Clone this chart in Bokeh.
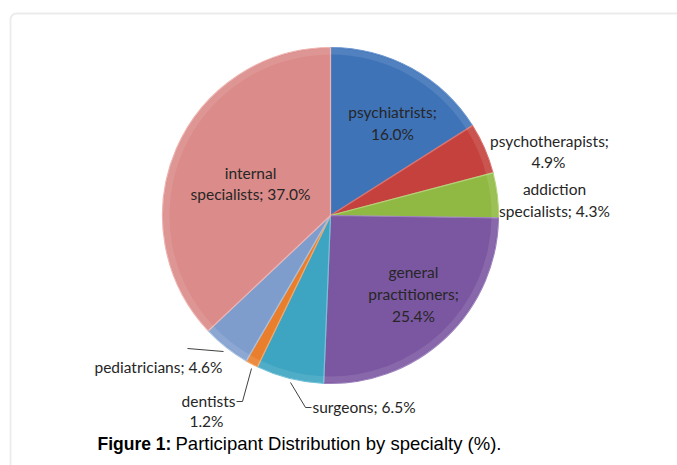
import math
from bokeh.plotting import figure
from bokeh.models import Range1d, BoxAnnotation
from bokeh.core.properties import value
from bokeh.embed import file_html
from bokeh.resources import INLINE

# ---- data ----
categories = ["psychiatrists", "psychotherapists", "addiction specialists",
              "general practitioners", "surgeons", "dentists",
              "pediatricians", "internal specialists"]
shares = [16.0, 4.9, 4.3, 25.4, 6.5, 1.2, 4.6, 37.0]
colors = ["#3F73B8", "#C4413D", "#8FB943", "#7B57A1",
          "#3DA4C1", "#E97F2C", "#7F9DCC", "#DB8B89"]
edge_colors = ["#6E98CF", "#D9736F", "#B4D47A", "#9D82BD",
               "#74C2D8", "#F3A86A", "#A8C0E2", "#EDB3B1"]

W, H = 677, 465
p = figure(width=W, height=H, output_backend="svg", toolbar_location=None,
           x_range=Range1d(0, W), y_range=Range1d(0, H),
           min_border=0, outline_line_color=None)
p.axis.visible = False
p.grid.visible = False
p.background_fill_color = "white"
p.border_fill_color = "white"


def Y(py):
    # page pixel row -> data y
    return H - py


# frame
p.add_layout(BoxAnnotation(left=10, right=760, top=Y(13), bottom=Y(600),
                           fill_alpha=0, line_color="#BDBDBD", line_width=1.8,
                           border_radius=6))

cx, cy, r = 330, Y(215), 168
total = sum(shares)
cum = 0.0
starts, ends = [], []
for s in shares:
    a0 = math.pi / 2 - 2 * math.pi * cum / total
    cum += s
    a1 = math.pi / 2 - 2 * math.pi * cum / total
    starts.append(a0)
    ends.append(a1)

p.wedge(x=[cx] * len(shares), y=[cy] * len(shares), radius=r,
        start_angle=starts, end_angle=ends, direction="clock",
        fill_color=colors, line_color=edge_colors, line_width=1.2)
# soft bevel ring near the rim
p.annular_wedge(x=[cx] * len(shares), y=[cy] * len(shares),
                inner_radius=r - 7, outer_radius=r - 1,
                start_angle=starts, end_angle=ends, direction="clock",
                fill_color="white", fill_alpha=0.10, line_color=None)

font = value("Lato")
tc = "#262626"
fs = "15.5px"


def label(x, py, txt, align="center"):
    p.text(x=[x], y=[Y(py)], text=[txt], text_font=font, text_font_size=fs,
           text_color=tc, text_align=align, text_baseline="middle")


def pct(v):
    return f"{v:.1f}%"


label(392, 111, "psychiatrists;")
label(392, 133, pct(shares[0]))
label(549, 140, "psychotherapists;")
label(548, 161, pct(shares[1]))
label(554, 188, "addiction")
label(554, 210, "specialists; " + pct(shares[2]))
label(413, 271, "general")
label(413, 293, "practitioners;")
label(413, 315, pct(shares[3]))
label(250, 172, "internal")
label(250, 193, "specialists; " + pct(shares[7]))
label(158, 366, "pediatricians; " + pct(shares[6]))
label(235, 400, "dentists", align="right")
label(206, 420, pct(shares[5]))
label(312, 406, "surgeons; " + pct(shares[4]), align="left")

lc = "#404040"
p.line(x=[187, 223], y=[Y(348), Y(351)], line_color=lc, line_width=1)
p.line(x=[236, 242, 251], y=[Y(401), Y(401), Y(368)], line_color=lc, line_width=1)
p.line(x=[290, 305, 311], y=[Y(382), Y(407), Y(407)], line_color=lc, line_width=1)

# caption
p.text(x=[97], y=[Y(443)], text=["Figure 1:"], text_font=value("Liberation Sans"),
       text_font_size="17.5px", text_font_style="bold", text_color="black",
       text_align="left", text_baseline="middle")
p.text(x=[175], y=[Y(443)], text=["Participant Distribution by specialty (%)."],
       text_font=value("Liberation Sans"), text_font_size="18.5px",
       text_color="black", text_align="left", text_baseline="middle")

open("out.html", "w").write(file_html(p, INLINE))
